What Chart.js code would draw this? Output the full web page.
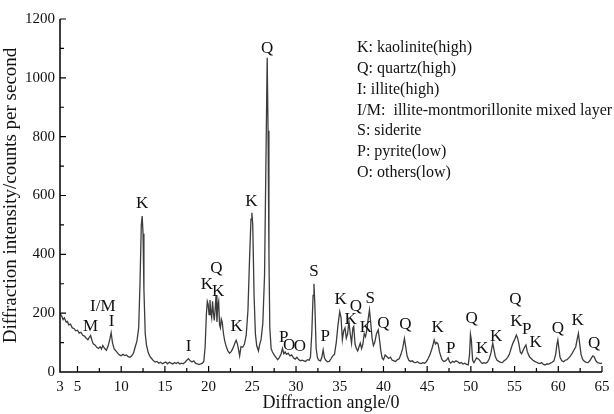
<!DOCTYPE html>
<html>
<head>
<meta charset="utf-8">
<script src="https://cdn.jsdelivr.net/npm/chart.js@4.4.1/dist/chart.umd.min.js"></script>
<style>
  html, body { margin: 0; background: #fff; }
</style>
</head>
<body>
<canvas id="xrdChart" width="614" height="414"></canvas>
<script>
// 2θ (degrees) and intensity (counts per second)
const angles = [
  3.0, 3.2, 3.35, 3.5, 3.7, 3.85, 4.0, 4.2, 4.4, 4.6, 4.8, 5.0, 5.2, 5.4, 5.6, 5.8, 6.0, 6.2, 6.35, 6.5,
  6.65, 6.8, 7.0, 7.2, 7.4, 7.6, 7.75, 7.9, 8.1, 8.3, 8.5, 8.7, 8.85, 9.0, 9.2, 9.4, 9.6, 9.8, 10.0, 10.2,
  10.4, 10.6, 10.8, 11.0, 11.2, 11.4, 11.6, 11.8, 12.0, 12.15, 12.3, 12.4, 12.5, 12.6, 12.75, 12.9, 13.1, 13.3, 13.5, 13.7,
  13.9, 14.1, 14.3, 14.5, 14.7, 14.9, 15.1, 15.3, 15.5, 15.7, 15.9, 16.1, 16.3, 16.5, 16.7, 16.9, 17.1, 17.3, 17.5, 17.7,
  17.9, 18.1, 18.3, 18.5, 18.7, 18.9, 19.1, 19.3, 19.45, 19.6, 19.75, 19.85, 19.95, 20.05, 20.15, 20.25, 20.35, 20.45, 20.55, 20.65,
  20.75, 20.85, 20.95, 21.05, 21.15, 21.25, 21.35, 21.45, 21.55, 21.7, 21.85, 22.0, 22.2, 22.4, 22.6, 22.8, 23.0, 23.15, 23.3, 23.45,
  23.55, 23.7, 23.9, 24.1, 24.3, 24.5, 24.7, 24.85, 24.95, 25.05, 25.2, 25.35, 25.5, 25.7, 25.85, 26.0, 26.2, 26.4, 26.55, 26.7,
  26.8, 26.9, 27.0, 27.15, 27.3, 27.5, 27.7, 27.9, 28.1, 28.3, 28.45, 28.6, 28.75, 28.9, 29.1, 29.3, 29.5, 29.7, 29.9, 30.1,
  30.3, 30.5, 30.7, 30.9, 31.1, 31.3, 31.5, 31.65, 31.8, 31.95, 32.05, 32.15, 32.3, 32.45, 32.6, 32.8, 32.95, 33.1, 33.25, 33.4,
  33.6, 33.8, 34.0, 34.2, 34.4, 34.6, 34.8, 35.0, 35.15, 35.3, 35.45, 35.6, 35.75, 35.9, 36.05, 36.2, 36.35, 36.5, 36.6, 36.75,
  36.9, 37.05, 37.2, 37.35, 37.5, 37.65, 37.8, 37.95, 38.1, 38.25, 38.4, 38.55, 38.7, 38.85, 39.0, 39.2, 39.4, 39.55, 39.7, 39.85,
  40.0, 40.2, 40.4, 40.6, 40.8, 41.0, 41.2, 41.4, 41.6, 41.8, 42.0, 42.2, 42.4, 42.55, 42.7, 42.9, 43.1, 43.3, 43.5, 43.7,
  43.9, 44.1, 44.3, 44.5, 44.7, 44.9, 45.1, 45.3, 45.5, 45.65, 45.8, 45.95, 46.1, 46.25, 46.4, 46.55, 46.7, 46.9, 47.1, 47.25,
  47.4, 47.55, 47.7, 47.9, 48.1, 48.3, 48.5, 48.7, 48.9, 49.1, 49.3, 49.5, 49.7, 49.85, 49.95, 50.05, 50.2, 50.35, 50.5, 50.65,
  50.8, 50.95, 51.1, 51.3, 51.5, 51.7, 51.9, 52.1, 52.3, 52.5, 52.65, 52.8, 53.0, 53.2, 53.4, 53.6, 53.8, 54.0, 54.2, 54.4,
  54.6, 54.8, 55.0, 55.2, 55.35, 55.5, 55.65, 55.8, 56.0, 56.15, 56.3, 56.45, 56.6, 56.75, 56.9, 57.1, 57.3, 57.5, 57.7, 57.9,
  58.1, 58.3, 58.5, 58.7, 58.9, 59.1, 59.3, 59.5, 59.7, 59.85, 59.95, 60.05, 60.2, 60.4, 60.6, 60.8, 61.0, 61.2, 61.4, 61.6,
  61.8, 62.0, 62.15, 62.3, 62.45, 62.6, 62.8, 63.0, 63.2, 63.4, 63.6, 63.8, 63.95, 64.1, 64.3, 64.5, 64.7, 64.9, 65.0
];
const counts = [
  198, 190, 178, 184, 170, 172, 160, 163, 150, 148, 140, 142, 132, 135, 125, 122, 115, 110, 118, 124,
  108, 96, 92, 84, 80, 86, 78, 90, 80, 74, 88, 112, 134, 100, 78, 72, 64, 58, 55, 60,
  56, 58, 52, 50, 55, 64, 85, 105, 150, 300, 500, 530, 470, 280, 130, 90, 65, 52, 45, 38,
  34, 36, 30, 33, 28, 31, 34, 28, 33, 30, 27, 32, 29, 33, 27, 30, 28, 33, 40, 45,
  38, 34, 38, 30, 28, 25, 28, 30, 36, 85, 200, 240, 230, 195, 245, 205, 185, 240, 200, 175,
  215, 262, 170, 225, 240, 160, 150, 180, 170, 130, 105, 88, 72, 64, 70, 82, 98, 108, 95, 72,
  55, 86, 84, 95, 125, 210, 400, 520, 541, 500, 260, 130, 90, 72, 95, 110, 165, 330, 700, 1068,
  820, 400, 150, 80, 68, 58, 50, 42, 50, 62, 80, 62, 68, 60, 64, 55, 58, 48, 44, 50,
  42, 38, 40, 38, 36, 42, 40, 50, 130, 260, 300, 230, 80, 48, 40, 38, 50, 75, 48, 40,
  35, 36, 45, 55, 60, 100, 160, 205, 185, 110, 140, 150, 115, 130, 172, 130, 98, 150, 155, 95,
  80, 72, 85, 98, 80, 95, 130, 120, 142, 180, 211, 165, 115, 90, 100, 130, 143, 110, 72, 48,
  42, 58, 52, 46, 50, 40, 38, 36, 42, 45, 60, 80, 114, 85, 55, 40, 36, 38, 33, 32,
  35, 30, 29, 32, 30, 35, 45, 58, 75, 90, 109, 95, 100, 95, 70, 55, 42, 36, 38, 42,
  48, 35, 30, 36, 33, 38, 35, 30, 32, 27, 30, 26, 24, 60, 128, 110, 40, 32, 40, 48,
  45, 42, 35, 29, 32, 30, 34, 45, 65, 98, 75, 52, 40, 36, 33, 32, 38, 42, 50, 60,
  80, 98, 110, 126, 115, 95, 68, 62, 75, 85, 92, 70, 58, 50, 46, 40, 36, 33, 30, 29,
  32, 26, 24, 28, 27, 30, 33, 38, 60, 95, 109, 85, 50, 38, 35, 40, 42, 48, 55, 64,
  75, 86, 110, 131, 95, 60, 42, 36, 33, 32, 38, 48, 55, 52, 38, 32, 30, 29, 30
];

// axis ticks
const xTickValues = [3, 5, 10, 15, 20, 25, 30, 35, 40, 45, 50, 55, 60, 65];
const yTickValues = [0, 200, 400, 600, 800, 1000, 1200];

// phase labels over the peaks (angle, intensity where the letter sits)
const peakNames  = ['M', 'I/M', 'I', 'K', 'I', 'K', 'Q', 'K', 'K', 'K', 'Q', 'P', 'O', 'O', 'S', 'P', 'K', 'K', 'Q', 'K', 'S', 'Q',
                    'Q', 'K', 'P', 'Q', 'K', 'K', 'Q', 'K', 'P', 'K', 'Q', 'K', 'Q'];
const peakAngles = [6.5, 7.9, 8.9, 12.4, 17.7, 19.8, 20.9, 21.1, 23.2, 24.9, 26.7, 28.6, 29.2, 30.45, 32.05, 33.35, 35.1, 36.25, 36.85, 38.0, 38.5, 40.0,
                    42.5, 46.2, 47.7, 50.1, 51.3, 52.9, 55.1, 55.2, 56.4, 57.4, 59.95, 62.2, 64.1];
const peakHeights = [154, 222, 171, 572, 86, 296, 353, 273, 154, 579, 1098, 118, 90, 86, 341, 120, 248, 177, 224, 151, 251, 166,
                    160, 151, 80, 183, 80, 120, 247, 171, 143, 100, 149, 175, 98];

const legendLines = [
  'K: kaolinite(high)',
  'Q: quartz(high)',
  'I: illite(high)',
  'I/M:  illite-montmorillonite mixed layer',
  'S: siderite',
  'P: pyrite(low)',
  'O: others(low)'
];

const serif = '"Liberation Serif", "Times New Roman", serif';

// axes, inward ticks, peak letters and the key text
const decorPlugin = {
  id: 'decor',
  afterDraw(chart) {
    const { ctx, chartArea: a, scales: { x, y } } = chart;
    ctx.save();
    ctx.strokeStyle = '#000';
    ctx.lineWidth = 1.5;
    ctx.beginPath();
    ctx.moveTo(a.left, a.top);
    ctx.lineTo(a.left, a.bottom);
    ctx.lineTo(a.right, a.bottom);
    ctx.stroke();

    ctx.lineWidth = 1.2;
    ctx.beginPath();
    for (let v = 5; v <= 65; v += 2.5) {
      const px = x.getPixelForValue(v);
      const len = v % 5 === 0 ? 6 : 4;
      ctx.moveTo(px, a.bottom);
      ctx.lineTo(px, a.bottom - len);
    }
    for (let v = 100; v <= 1200; v += 100) {
      const py = y.getPixelForValue(v);
      const len = v % 200 === 0 ? 6 : 4;
      ctx.moveTo(a.left, py);
      ctx.lineTo(a.left + len, py);
    }
    ctx.stroke();

    ctx.fillStyle = '#111';
    ctx.font = '17px ' + serif;
    ctx.textAlign = 'center';
    ctx.textBaseline = 'middle';
    peakNames.forEach((name, i) => {
      ctx.fillText(name, x.getPixelForValue(peakAngles[i]), y.getPixelForValue(peakHeights[i]));
    });

    ctx.font = '16px ' + serif;
    ctx.textAlign = 'left';
    legendLines.forEach((line, i) => {
      ctx.fillText(line, chart.width - 257, a.top + 29 + i * 20.8);
    });
    ctx.restore();
  }
};

const ctx = document.getElementById('xrdChart').getContext('2d');
const xrdChart = new Chart(ctx, {
  type: 'line',
  data: {
    datasets: [{
      data: angles.map((a, i) => ({ x: a, y: counts[i] })),
      borderColor: '#3c3c3c',
      borderWidth: 1.3,
      pointRadius: 0,
      tension: 0,
      fill: false
    }]
  },
  options: {
    responsive: false,
    animation: false,
    events: [],
    layout: { padding: { top: 19, right: 0 } },
    plugins: {
      legend: { display: false },
      tooltip: { enabled: false }
    },
    scales: {
      x: {
        type: 'linear',
        min: 3,
        max: 65,
        afterBuildTicks: (scale) => { scale.ticks = xTickValues.map(v => ({ value: v })); },
        afterFit: (scale) => {
          scale.height = 42;
          scale.paddingRight = 12;
        },
        grid: { display: false, drawTicks: false },
        border: { display: false },
        ticks: {
          color: '#111',
          padding: 6,
          maxRotation: 0,
          autoSkip: false,
          callback: (v) => String(v),
          font: { family: serif, size: 15 }
        },
        title: {
          display: true,
          text: 'Diffraction angle/0',
          color: '#111',
          padding: { top: 0, bottom: 0 },
          font: { family: serif, size: 18 }
        }
      },
      y: {
        min: 0,
        max: 1200,
        afterBuildTicks: (scale) => { scale.ticks = yTickValues.map(v => ({ value: v })); },
        afterFit: (scale) => { scale.width = 60; },
        grid: { display: false, drawTicks: false },
        border: { display: false },
        ticks: {
          color: '#111',
          padding: 5,
          callback: (v) => String(v),
          font: { family: serif, size: 15 }
        },
        title: {
          display: true,
          text: 'Diffraction intensity/counts per second',
          color: '#111',
          padding: { top: 0, bottom: 0 },
          font: { family: serif, size: 19 }
        }
      }
    }
  },
  plugins: [decorPlugin]
});
</script>
</body>
</html>
